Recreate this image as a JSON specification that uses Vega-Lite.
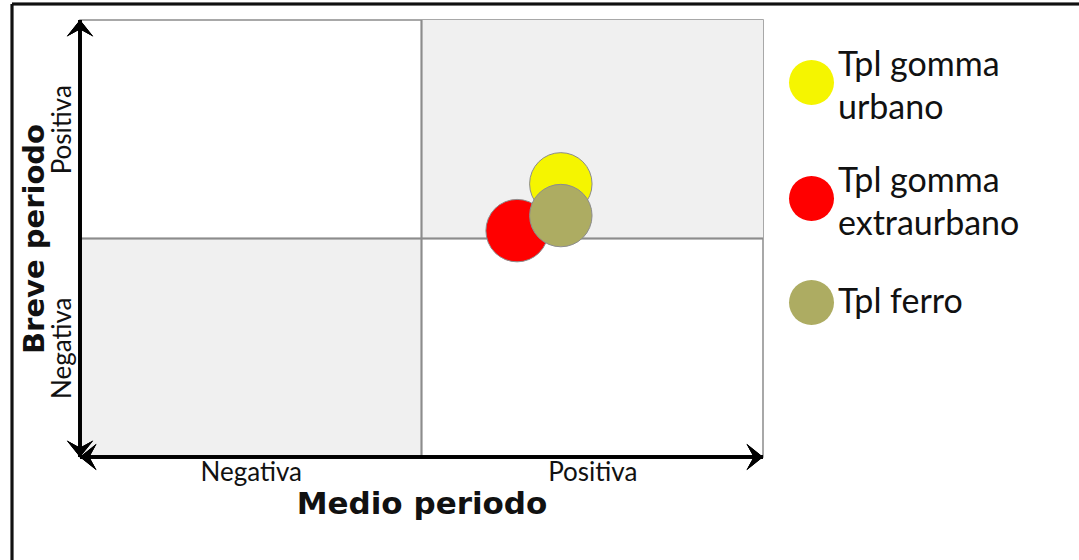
{
  "$schema": "https://vega.github.io/schema/vega-lite/v6.json",
  "width": 683,
  "height": 437,
  "autosize": {"type": "none"},
  "padding": {"left": 80, "top": 20, "right": 316, "bottom": 103},
  "background": "white",
  "config": {
    "view": {"stroke": "#8c8c8c", "strokeWidth": 1.5},
    "font": "Lato",
    "style": {"guide-label": {"lineHeight": 43}}
  },
  "data": {
    "values": [
      {"serie": "Tpl gomma urbano", "medio": 0.408, "breve": 0.25},
      {"serie": "Tpl gomma extraurbano", "medio": 0.28, "breve": 0.036},
      {"serie": "Tpl ferro", "medio": 0.408, "breve": 0.105}
    ]
  },
  "layer": [
    {
      "mark": {"type": "rect", "color": "#f0f0f0"},
      "encoding": {
        "x": {"datum": 0, "type": "quantitative", "scale": {"domain": [-1, 1]},
          "axis": {"values": [-0.5, 0.5], "labelExpr": "datum.value < 0 ? 'Negativa' : 'Positiva'", "domain": false, "ticks": false, "grid": false,
            "labelFontSize": 26, "labelColor": "#111", "labelPadding": 2,
            "title": "Medio periodo", "titleFont": "DejaVu Sans", "titleFontSize": 31, "titleFontWeight": "bold", "titleColor": "#111", "titlePadding": 4}},
        "x2": {"datum": 1},
        "y": {"datum": 0, "type": "quantitative", "scale": {"domain": [-1, 1]},
          "axis": {"values": [-0.5, 0.5], "labelExpr": "datum.value < 0 ? 'Negativa' : 'Positiva'", "domain": false, "ticks": false, "grid": false,
            "labelFontSize": 26, "labelColor": "#111", "labelAngle": -90, "labelAlign": "center", "labelBaseline": "bottom", "labelPadding": 5,
            "title": "Breve periodo", "titleFont": "DejaVu Sans", "titleFontSize": 29, "titleFontWeight": "bold", "titleColor": "#111", "titlePadding": 0}},
        "y2": {"datum": 1}
      }
    },
    {
      "mark": {"type": "rect", "color": "#f0f0f0"},
      "encoding": {
        "x": {"datum": -1, "type": "quantitative"},
        "x2": {"datum": 0},
        "y": {"datum": -1, "type": "quantitative"},
        "y2": {"datum": 0}
      }
    },
    {
      "mark": {"type": "rule", "color": "#8c8c8c", "strokeWidth": 1.5},
      "encoding": {"x": {"datum": 0, "type": "quantitative"}, "y": {"datum": -1, "type": "quantitative"}, "y2": {"datum": 1}}
    },
    {
      "mark": {"type": "rule", "color": "#8c8c8c", "strokeWidth": 1.5},
      "encoding": {"y": {"datum": 0, "type": "quantitative"}, "x": {"datum": -1, "type": "quantitative"}, "x2": {"datum": 1}}
    },
    {
      "mark": {"type": "rule", "color": "#000", "strokeWidth": 3.5, "clip": false},
      "encoding": {"x": {"datum": -1, "type": "quantitative"}, "y": {"datum": -1, "type": "quantitative"}, "y2": {"datum": 1}}
    },
    {
      "mark": {"type": "rule", "color": "#000", "strokeWidth": 3.5, "clip": false},
      "encoding": {"y": {"datum": -1, "type": "quantitative"}, "x": {"datum": -1, "type": "quantitative"}, "x2": {"datum": 1}}
    },
    {
      "mark": {"type": "point", "filled": true, "color": "#000", "opacity": 1, "size": 700, "clip": false, "shape": "M0,0L1,1.25L0,0.7L-1,1.25Z"},
      "encoding": {"x": {"datum": -1, "type": "quantitative"}, "y": {"datum": 1, "type": "quantitative"}}
    },
    {
      "mark": {"type": "point", "filled": true, "color": "#000", "opacity": 1, "size": 700, "clip": false, "shape": "M0,0L1,-1.25L0,-0.7L-1,-1.25Z"},
      "encoding": {"x": {"datum": -1, "type": "quantitative"}, "y": {"datum": -1, "type": "quantitative"}}
    },
    {
      "mark": {"type": "point", "filled": true, "color": "#000", "opacity": 1, "size": 700, "clip": false, "shape": "M0,0L1.25,-1L0.7,0L1.25,1Z"},
      "encoding": {"x": {"datum": -1, "type": "quantitative"}, "y": {"datum": -1, "type": "quantitative"}}
    },
    {
      "mark": {"type": "point", "filled": true, "color": "#000", "opacity": 1, "size": 700, "clip": false, "shape": "M0,0L-1.25,-1L-0.7,0L-1.25,1Z"},
      "encoding": {"x": {"datum": 1, "type": "quantitative"}, "y": {"datum": -1, "type": "quantitative"}}
    },
    {
      "mark": {"type": "rule", "color": "#111", "strokeWidth": 2.5, "clip": false},
      "encoding": {"y": {"datum": 1.0732, "type": "quantitative"}, "x": {"datum": -1.1991, "type": "quantitative"}, "x2": {"datum": 1.93}}
    },
    {
      "mark": {"type": "rule", "color": "#111", "strokeWidth": 2.5, "clip": false},
      "encoding": {"x": {"datum": -1.1991, "type": "quantitative"}, "y": {"datum": 1.0732, "type": "quantitative"}, "y2": {"datum": -1.48}}
    },
    {
      "mark": {"type": "point", "filled": true, "opacity": 1, "size": 3900, "stroke": "#8c8c8c", "strokeWidth": 1},
      "encoding": {
        "x": {"field": "medio", "type": "quantitative"},
        "y": {"field": "breve", "type": "quantitative"},
        "color": {
          "field": "serie", "type": "nominal",
          "scale": {"domain": ["Tpl gomma urbano", "Tpl gomma extraurbano", "Tpl ferro"], "range": ["#f5f500", "#ff0000", "#adac62"]},
          "legend": {
            "title": null, "orient": "none", "legendX": 709, "legendY": 40,
            "symbolSize": 2025, "symbolType": "circle", "symbolStrokeWidth": 0, "symbolOpacity": 1,
            "labelFontSize": 34, "labelColor": "#111", "labelLimit": 300, "labelOffset": 4,
            "labelExpr": "datum.label == 'Tpl ferro' ? datum.label : ['Tpl gomma', slice(datum.label, 10)]",
            "labelBaseline": {"expr": "datum.value == 'Tpl ferro' ? 'middle' : 'bottom'"},
            "rowPadding": 38
          }
        }
      }
    }
  ]
}
